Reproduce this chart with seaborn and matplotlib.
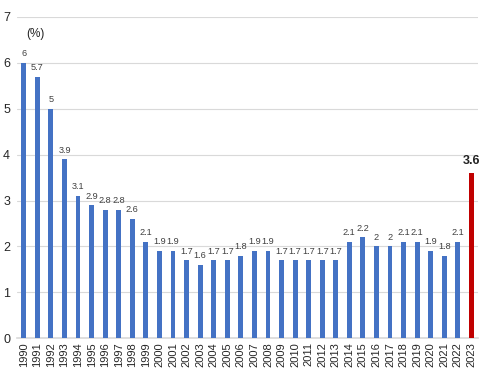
import numpy as np
import pandas as pd
import matplotlib.pyplot as plt
import seaborn as sns

years = [str(y) for y in range(1990, 2024)]
rates = [6, 5.7, 5, 3.9, 3.1, 2.9, 2.8, 2.8, 2.6, 2.1,
         1.9, 1.9, 1.7, 1.6, 1.7, 1.7, 1.8, 1.9, 1.9, 1.7,
         1.7, 1.7, 1.7, 1.7, 2.1, 2.2, 2, 2, 2.1, 2.1,
         1.9, 1.8, 2.1, 3.6]

df = pd.DataFrame({'year': years, 'rate': rates})
blue = '#4472c4'
red = '#c00000'
colors = [blue] * (len(years) - 1) + [red]

sns.set_style('white')
plt.rcParams['font.family'] = ['Liberation Sans', 'DejaVu Sans']

fig = plt.figure(figsize=(4.86, 3.77), dpi=100)
ax = fig.add_axes([0.035, 0.103, 0.949, 0.852])

sns.barplot(x='year', y='rate', data=df, hue='year', palette=colors,
            legend=False, width=0.36, ax=ax, zorder=3, saturation=1,
            linewidth=0)

ax.set_ylim(0, 7)
ax.set_xlim(-0.5, len(years) - 0.5)
ax.set_yticks(range(0, 8))
ax.yaxis.grid(True, color='#d9d9d9', linewidth=0.8, zorder=0)
for s in ['top', 'right', 'left']:
    ax.spines[s].set_visible(False)
ax.spines['bottom'].set_color('#d9d9d9')
ax.spines['bottom'].set_linewidth(1.2)
ax.tick_params(axis='y', length=0, labelsize=9, pad=5)
ax.tick_params(axis='x', length=0, labelsize=8, rotation=90, pad=3)
ax.set_xlabel('')
ax.set_ylabel('')

for i, v in enumerate(rates):
    lab = f'{v:g}'
    if i == len(rates) - 1:
        ax.text(i, v + 0.12, lab, ha='center', va='bottom', fontsize=9,
                fontweight='bold', color='#222222')
    else:
        ax.text(i, v + 0.1, lab, ha='center', va='bottom', fontsize=6.6,
                color='#404040')

ax.text(0.2, 6.75, '(%)', ha='left', va='top', fontsize=8.5, color='#222222')

plt.savefig('out.png', dpi=100)
